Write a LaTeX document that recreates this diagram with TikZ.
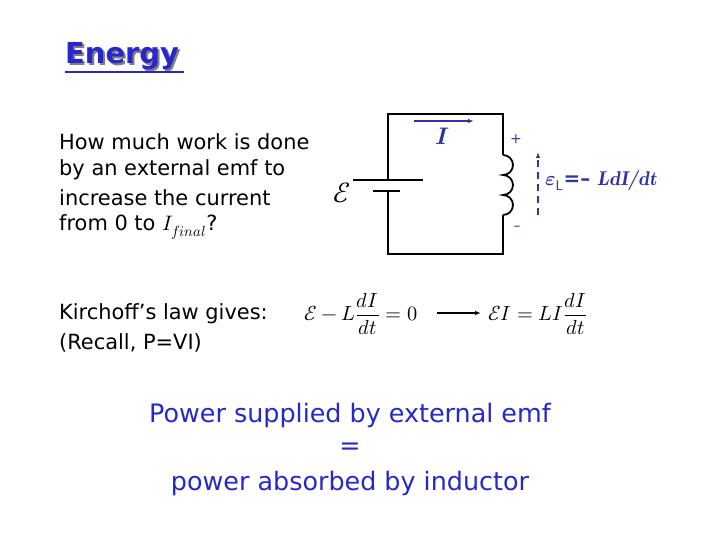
\documentclass[tikz,border=0pt]{standalone}
\usepackage{fontspec}
\setmainfont{DejaVu Sans}
\usepackage{unicode-math}
\setmathfont{Latin Modern Math}
\usetikzlibrary{arrows.meta}
\definecolor{tblue}{RGB}{40,40,200}
\definecolor{cblue}{RGB}{50,50,160}
\begin{document}
\begin{tikzpicture}[x=1bp,y=-1bp,
  txt/.style={anchor=west,inner sep=0,font=\fontsize{21}{22}\selectfont},
  wire/.style={line width=1.8pt},
  blu/.style={text=tblue,font=\fontsize{25.5}{28}\selectfont,inner sep=0}]
\useasboundingbox (0,0) rectangle (720,540);
% title
\node[anchor=west,inner sep=0,text=black!50,font=\fontsize{29}{32}\selectfont\bfseries] at (67,58) {Energy};
\node[anchor=west,inner sep=0,text=tblue,font=\fontsize{29}{32}\selectfont\bfseries] (title) at (65,56) {Energy};
\draw[tblue,line width=1.5pt] (65,72) -- (184,72);
% question
\node[txt] (q1) at (59,142) {How much work is done};
\node[txt] (q2) at (59,170) {by an external emf to};
\node[txt] (q3) at (59,198) {increase the current};
\node[txt] (q4) at (59,227) {from 0 to $I_{final}$?};
% circuit
\coordinate (tl) at (388,114); \coordinate (tr) at (503,114);
\coordinate (bl) at (388,254); \coordinate (br) at (503,254);
\coordinate (ct) at (503,155); \coordinate (cb) at (503,215);
\draw[wire] (388,180) -- (tl) -- (tr) -- (ct);
\draw[wire] (388,191) -- (bl) -- (br) -- (cb);
\draw[wire] (ct) arc[start angle=-90,end angle=90,radius=10] arc[start angle=-90,end angle=90,radius=10] arc[start angle=-90,end angle=90,radius=10];
\draw[line width=3pt] (353,180) -- (423,180);
\draw[line width=3pt] (373,191) -- (400,191);
\node[inner sep=0,font=\fontsize{28}{30}\selectfont] (emf) at (342,193) {$\mathcal{E}$};
\draw[cblue,line width=1.3pt,-{Latex[length=6pt]}] (414,121) -- (474,121);
\node[inner sep=0,text=cblue,font=\fontsize{24}{26}\selectfont] (I) at (443,136) {$\symbfit{I}$};
\node[inner sep=0,text=cblue,font=\fontsize{14}{14}\selectfont] (plus) at (516,139) {+};
\node[inner sep=0,text=cblue,font=\fontsize{14}{14}\selectfont] (minus) at (517,228) {–};
\coordinate (da) at (538,215); \coordinate (db) at (538,152);
\draw[cblue,line width=1.5pt,dash pattern=on 7pt off 5pt,-{Latex[length=6pt]}] (da) -- (db);
\node[anchor=west,inner sep=0,text=cblue,font=\fontsize{20}{22}\selectfont\bfseries] (eL) at (545,181) {$\symbf{ε}_{\mathsf{L}}$=– \textit{\fontfamily{lmr}\selectfont LdI/dt}};
% Kirchoff
\node[txt] (k1) at (59,314) {Kirchoff’s law gives:};
\node[txt] (k2) at (59,343) {(Recall, P=VI)};
\node[inner sep=0,anchor=west,font=\fontsize{20.5}{22}\selectfont] (eq1) at (304,314) {$\mathcal{E}-L\dfrac{dI}{dt}=0$};
\node[inner sep=0,anchor=west,font=\fontsize{20.5}{22}\selectfont] (eq2) at (488,314) {$\mathcal{E}I=LI\dfrac{dI}{dt}$};
\draw[line width=1.2pt,-{Latex[length=6pt]}] (437,313) -- (481,313);
% bottom
\node[blu] (b1) at (350,415) {Power supplied by external emf};
\node[blu] (b2) at (350,449) {=};
\node[blu] (b3) at (350,483) {power absorbed by inductor};
\end{tikzpicture}
\end{document}
